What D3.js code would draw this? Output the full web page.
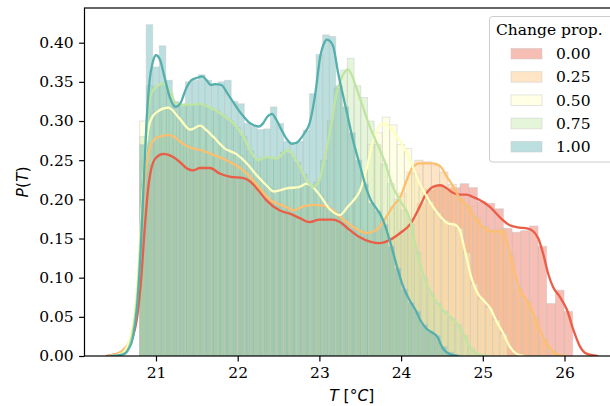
<!DOCTYPE html>
<html><head><meta charset="utf-8">
<script src="https://cdn.jsdelivr.net/npm/d3@7"></script>
<style>
body{margin:0;background:#fff;}
svg{display:block;}
</style></head><body>
<svg id="c" width="610" height="406"></svg>
<script>
// ---------------- DATA ----------------
const seriesLabels = ["0.00", "0.25", "0.50", "0.75", "1.00"];
const legendTitle = "Change prop.";
const xTicks = [21, 22, 23, 24, 25, 26];
const yTicks = [0.00, 0.05, 0.10, 0.15, 0.20, 0.25, 0.30, 0.35, 0.40];

// histogram bins: first edge and bin width for each series (°C)
const binStart = [20.80, 20.80, 20.80, 20.80, 20.80];
const binWidth = [0.106, 0.102, 0.09, 0.082, 0.08];

// histogram densities
const hist00 = [0.22,0.245,0.257,0.256,0.249,0.24,0.238,0.24,0.238,0.232,
  0.229,0.228,0.225,0.214,0.201,0.191,0.185,0.181,0.176,0.172,
  0.173,0.174,0.174,0.167,0.159,0.151,0.146,0.144,0.146,0.152,
  0.16,0.175,0.195,0.212,0.218,0.214,0.215,0.22,0.215,0.197,
  0.195,0.188,0.163,0.158,0.16,0.166,0.14,0.067,0.084,0.057];
const hist25 = [0.25,0.272,0.28,0.282,0.276,0.27,0.265,0.262,0.258,0.254,
  0.25,0.244,0.237,0.226,0.213,0.201,0.196,0.191,0.187,0.19,
  0.192,0.192,0.191,0.183,0.175,0.166,0.16,0.157,0.162,0.176,
  0.191,0.208,0.235,0.25,0.248,0.244,0.235,0.219,0.203,0.192,
  0.178,0.166,0.161,0.163,0.13,0.087,0.071,0.049,0.022,0.007];
const hist50 = [0.30,0.31,0.312,0.316,0.312,0.303,0.293,0.291,0.292,0.284,
  0.276,0.266,0.261,0.256,0.247,0.236,0.224,0.216,0.21,0.213,
  0.215,0.216,0.219,0.216,0.206,0.19,0.183,0.181,0.192,0.205,
  0.232,0.27,0.285,0.305,0.295,0.27,0.265,0.232,0.213,0.197,
  0.183,0.173,0.168,0.163,0.132,0.092,0.073,0.062,0.046,0.028];
const hist75 = [0.28,0.345,0.343,0.348,0.335,0.322,0.32,0.321,0.321,0.321,
  0.317,0.313,0.306,0.3,0.292,0.28,0.262,0.251,0.253,0.253,
  0.252,0.26,0.258,0.247,0.232,0.218,0.222,0.25,0.3,0.342,
  0.365,0.38,0.345,0.33,0.3,0.27,0.245,0.22,0.2,0.186,
  0.168,0.132,0.1,0.08,0.067,0.057,0.048,0.04,0.026,0.01];
const hist100 = [0.27,0.423,0.369,0.396,0.352,0.325,0.322,0.35,0.352,0.359,
  0.352,0.346,0.35,0.352,0.325,0.322,0.297,0.293,0.289,0.29,
  0.318,0.297,0.274,0.269,0.274,0.288,0.335,0.385,0.41,0.408,
  0.345,0.318,0.285,0.25,0.22,0.195,0.185,0.168,0.14,0.112,
  0.085,0.068,0.057,0.04,0.031,0.026,0.012,0.005];

// KDE curves [T, P(T)]
const kde00 = [[20.40,0],[20.50,0.002],[20.60,0.006],[20.70,0.02],[20.77,0.05],[20.82,0.10],[20.86,0.16],[20.90,0.21],[20.94,0.238],[21.00,0.253],[21.09,0.258],[21.21,0.254],[21.30,0.247],[21.37,0.24],[21.45,0.237],[21.54,0.24],[21.66,0.24],[21.78,0.233],[21.90,0.229],[22.07,0.227],[22.15,0.223],[22.25,0.212],[22.35,0.199],[22.51,0.186],[22.63,0.182],[22.76,0.176],[22.88,0.171],[23.00,0.174],[23.16,0.174],[23.25,0.171],[23.37,0.161],[23.49,0.152],[23.62,0.146],[23.74,0.144],[23.86,0.148],[23.99,0.157],[24.11,0.168],[24.23,0.191],[24.31,0.208],[24.39,0.216],[24.48,0.218],[24.56,0.214],[24.64,0.208],[24.72,0.206],[24.80,0.206],[24.88,0.203],[25.00,0.197],[25.09,0.19],[25.21,0.177],[25.33,0.167],[25.45,0.164],[25.54,0.163],[25.62,0.159],[25.68,0.15],[25.74,0.13],[25.80,0.105],[25.86,0.088],[25.94,0.076],[26.03,0.059],[26.11,0.033],[26.19,0.012],[26.27,0.003],[26.40,0]];
const kde25 = [[20.42,0],[20.50,0.002],[20.60,0.008],[20.68,0.02],[20.74,0.05],[20.79,0.11],[20.83,0.17],[20.87,0.23],[20.91,0.26],[20.96,0.274],[21.01,0.279],[21.17,0.282],[21.33,0.271],[21.45,0.265],[21.54,0.263],[21.70,0.257],[21.86,0.25],[22.03,0.24],[22.15,0.229],[22.32,0.208],[22.40,0.199],[22.50,0.194],[22.60,0.19],[22.68,0.186],[22.80,0.191],[22.93,0.193],[23.09,0.191],[23.25,0.178],[23.41,0.165],[23.58,0.157],[23.70,0.161],[23.82,0.178],[23.90,0.191],[23.99,0.203],[24.07,0.225],[24.15,0.242],[24.23,0.246],[24.39,0.246],[24.48,0.242],[24.56,0.229],[24.64,0.216],[24.72,0.201],[24.80,0.193],[24.90,0.177],[25.02,0.163],[25.12,0.159],[25.21,0.159],[25.27,0.154],[25.33,0.131],[25.39,0.106],[25.455,0.084],[25.54,0.071],[25.62,0.054],[25.70,0.033],[25.78,0.016],[25.90,0.003],[26.00,0]];
const kde50 = [[20.45,0],[20.58,0.003],[20.66,0.015],[20.72,0.04],[20.77,0.09],[20.81,0.16],[20.85,0.23],[20.88,0.27],[20.91,0.292],[20.96,0.306],[21.02,0.312],[21.15,0.317],[21.29,0.303],[21.42,0.289],[21.54,0.294],[21.62,0.288],[21.70,0.28],[21.84,0.265],[21.98,0.258],[22.11,0.246],[22.23,0.231],[22.35,0.218],[22.44,0.21],[22.60,0.214],[22.76,0.216],[22.84,0.22],[22.92,0.216],[23.00,0.206],[23.13,0.187],[23.25,0.18],[23.35,0.191],[23.42,0.199],[23.50,0.212],[23.58,0.24],[23.66,0.276],[23.73,0.293],[23.79,0.297],[23.86,0.292],[23.99,0.274],[24.11,0.25],[24.23,0.22],[24.35,0.197],[24.48,0.178],[24.58,0.169],[24.65,0.168],[24.72,0.16],[24.78,0.135],[24.86,0.1],[24.95,0.078],[25.01,0.071],[25.09,0.061],[25.17,0.044],[25.25,0.029],[25.33,0.012],[25.41,0.003],[25.50,0]];
const kde75 = [[20.50,0],[20.62,0.004],[20.68,0.015],[20.73,0.04],[20.78,0.09],[20.82,0.17],[20.86,0.25],[20.90,0.31],[20.93,0.332],[21.00,0.343],[21.09,0.348],[21.16,0.34],[21.24,0.323],[21.31,0.32],[21.39,0.321],[21.47,0.321],[21.54,0.322],[21.64,0.318],[21.74,0.313],[21.85,0.305],[21.95,0.297],[22.07,0.28],[22.17,0.259],[22.25,0.25],[22.35,0.254],[22.48,0.252],[22.55,0.258],[22.62,0.263],[22.69,0.254],[22.76,0.242],[22.84,0.225],[22.93,0.216],[23.00,0.225],[23.06,0.25],[23.11,0.276],[23.16,0.305],[23.21,0.335],[23.26,0.352],[23.30,0.361],[23.35,0.366],[23.40,0.358],[23.44,0.346],[23.52,0.322],[23.62,0.292],[23.72,0.268],[23.80,0.248],[23.90,0.216],[23.99,0.198],[24.11,0.174],[24.19,0.135],[24.31,0.093],[24.39,0.076],[24.51,0.059],[24.68,0.042],[24.76,0.029],[24.84,0.012],[24.97,0.001],[25.05,0]];
const kde100 = [[20.45,0],[20.60,0.002],[20.66,0.008],[20.72,0.025],[20.77,0.065],[20.81,0.13],[20.85,0.22],[20.88,0.29],[20.92,0.35],[20.96,0.375],[21.00,0.384],[21.05,0.378],[21.10,0.358],[21.17,0.33],[21.24,0.318],[21.30,0.323],[21.37,0.342],[21.43,0.352],[21.50,0.355],[21.57,0.357],[21.62,0.352],[21.67,0.346],[21.72,0.347],[21.80,0.346],[21.87,0.336],[21.94,0.325],[22.01,0.314],[22.07,0.306],[22.13,0.299],[22.19,0.295],[22.26,0.293],[22.31,0.297],[22.36,0.305],[22.42,0.309],[22.47,0.302],[22.53,0.29],[22.60,0.277],[22.66,0.271],[22.72,0.272],[22.76,0.276],[22.82,0.285],[22.88,0.297],[22.95,0.335],[23.01,0.382],[23.06,0.4],[23.09,0.404],[23.13,0.402],[23.17,0.395],[23.23,0.361],[23.33,0.314],[23.41,0.276],[23.50,0.242],[23.58,0.212],[23.63,0.199],[23.70,0.188],[23.76,0.178],[23.86,0.148],[23.95,0.114],[24.02,0.09],[24.11,0.07],[24.17,0.06],[24.24,0.045],[24.31,0.035],[24.38,0.03],[24.44,0.025],[24.51,0.01],[24.60,0.002],[24.70,0]];

const hists = [hist00, hist25, hist50, hist75, hist100];
const kdes = [kde00, kde25, kde50, kde75, kde100];

// ---------------- STYLE / LAYOUT ----------------
const colors = ["#ea5d47", "#fdbf6f", "#ffffbf", "#bfe5a0", "#55afad"];
const serif = "'DejaVu Serif', serif";
const fs = 15.5;
const L = 84.5, R = 619, T = 8, B = 356;

const svg = d3.select("#c");
const x = d3.scaleLinear().domain([20.125, 26.667]).range([L, R]);
const y = d3.scaleLinear().domain([0, 0.4443]).range([B, T]);

svg.append("defs").append("clipPath").attr("id", "clip")
  .append("rect").attr("x", L).attr("y", T).attr("width", R - L).attr("height", B - T);

const plot = svg.append("g").attr("clip-path", "url(#clip)");

// histograms (layered)
hists.forEach((h, s) => {
  const g = plot.append("g");
  g.selectAll("rect").data(h).join("rect")
    .attr("x", (d, i) => x(binStart[s] + i * binWidth[s]))
    .attr("width", (d, i) => x(binStart[s] + (i + 1) * binWidth[s]) - x(binStart[s] + i * binWidth[s]))
    .attr("y", d => y(d))
    .attr("height", d => y(0) - y(d))
    .attr("fill", colors[s]).attr("fill-opacity", 0.4)
    .attr("stroke", "#c8c8c8").attr("stroke-opacity", 0.5).attr("stroke-width", 0.9);
});

// KDE lines
const line = d3.line().x(d => x(d[0])).y(d => y(d[1])).curve(d3.curveMonotoneX);
kdes.forEach((k, s) => {
  plot.append("path").datum(k).attr("d", line)
    .attr("fill", "none").attr("stroke", colors[s]).attr("stroke-width", 2.3)
    .attr("stroke-linejoin", "round").attr("stroke-linecap", "round");
});

// axes
const ax = svg.append("g").attr("transform", `translate(0,${B})`)
  .call(d3.axisBottom(x).tickValues(xTicks).tickFormat(d3.format("d")).tickSize(5.4).tickPadding(5.4));
const ay = svg.append("g").attr("transform", `translate(${L},0)`)
  .call(d3.axisLeft(y).tickValues(yTicks).tickFormat(d3.format(".2f")).tickSize(5.4).tickPadding(5.4));
[ax, ay].forEach(g => {
  g.select(".domain").remove();
  g.selectAll(".tick line").attr("stroke", "#000").attr("stroke-width", 1.2);
  g.selectAll(".tick text").attr("font-family", serif).attr("font-size", fs).attr("fill", "#000");
});

// spines
svg.append("rect").attr("x", L).attr("y", T).attr("width", R - L).attr("height", B - T)
  .attr("fill", "none").attr("stroke", "#000").attr("stroke-width", 1.2);

// axis labels
const xl = svg.append("text").attr("x", (L + R) / 2).attr("y", 401)
  .attr("text-anchor", "middle").attr("font-size", fs).attr("font-family", "'DejaVu Sans', sans-serif");
xl.append("tspan").attr("font-style", "italic").text("T");
xl.append("tspan").text(" [°");
xl.append("tspan").attr("font-style", "italic").text("C");
xl.append("tspan").text("]");

const yl = svg.append("text").attr("transform", `translate(28,${(T + B) / 2}) rotate(-90)`)
  .attr("text-anchor", "middle").attr("font-size", fs).attr("font-family", "'DejaVu Sans', sans-serif");
yl.append("tspan").attr("font-style", "italic").text("P");
yl.append("tspan").text("(");
yl.append("tspan").attr("font-style", "italic").text("T");
yl.append("tspan").text(")");

// legend
const lg = svg.append("g");
lg.append("rect").attr("x", 489.5).attr("y", 16.5).attr("width", 130).attr("height", 145.5)
  .attr("rx", 3).attr("fill", "#fff").attr("fill-opacity", 0.8).attr("stroke", "#cccccc").attr("stroke-width", 1);
lg.append("text").attr("x", 496).attr("y", 35).attr("font-family", serif).attr("font-size", fs).text(legendTitle);
seriesLabels.forEach((lab, s) => {
  const cy = 53.7 + 23.25 * s;
  lg.append("rect").attr("x", 511).attr("y", cy - 5.3).attr("width", 31).attr("height", 10.6)
    .attr("fill", colors[s]).attr("fill-opacity", 0.4)
    .attr("stroke", "#c8c8c8").attr("stroke-opacity", 0.5).attr("stroke-width", 0.9);
  lg.append("text").attr("x", 556).attr("y", cy + 5.5).attr("font-family", serif).attr("font-size", fs).text(lab);
});
</script>
</body></html>
